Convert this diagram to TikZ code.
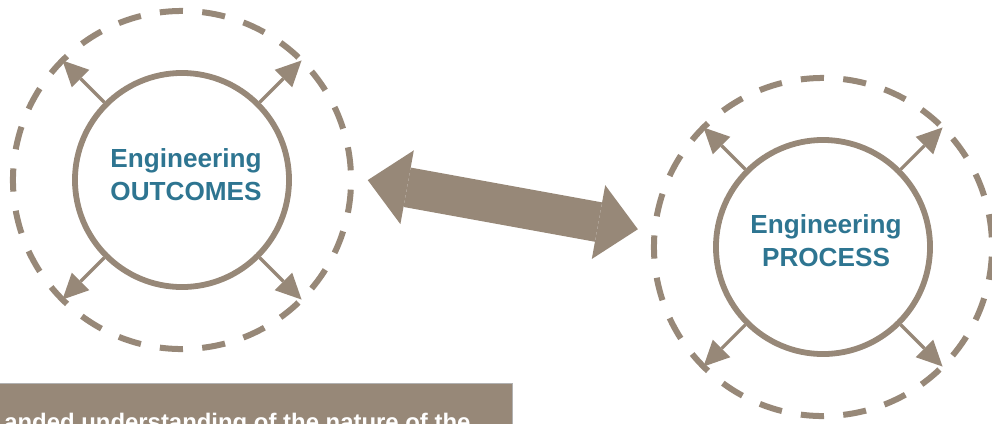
\documentclass[tikz,border=0pt]{standalone}
\usepackage{fontspec}
\setmainfont{Liberation Sans}
\usetikzlibrary{arrows.meta}
\definecolor{taupe}{RGB}{151,136,120}
\definecolor{engblue}{RGB}{46,117,145}
\begin{document}
\begin{tikzpicture}[x=0.025cm,y=-0.025cm]
	\tikzset{core/.style={draw=taupe,circle,line width=0.145cm,minimum size=5.35cm,inner sep=0pt},
		ring/.style={draw=taupe,circle,dash pattern=on 0.58cm off 0.482cm,dash phase=0.821cm,line width=0.15cm,minimum size=8.45cm,outer sep=0pt},
		caption/.style={align=center,text=engblue,font=\fontsize{18.6}{23.5}\selectfont\bfseries},
		spread/.style={draw=taupe,line width=0.08cm,-{Triangle[length=0.64cm,width=0.62cm,line width=0pt]}},
		link/.style={draw=taupe,line width=1cm,{Triangle[length=1cm,width=1.875cm,line width=0pt]}-{Triangle[length=1cm,width=1.875cm,line width=0pt]},shorten <=0.425cm,shorten >=0.425cm}}
	\useasboundingbox (0,0) rectangle (992,423);
	\clip (0,0) rectangle (992,423);
	% outcomes
	\node[ring] (ringA) at (182,180) {};
	\node[core] (coreA) at (182,180) {};
	\node[caption] (capA) at (186,174.5) {Engineering\\OUTCOMES};
	% process
	\node[ring] (ringB) at (823,247) {};
	\node[core] (coreB) at (823,247) {};
	\node[caption] (capB) at (826,241) {Engineering\\PROCESS};
	\foreach \c in {A,B}{
		\foreach \a in {45,135,225,315}{
			\draw[spread] (core\c.\a) -- (ring\c.\a);
		}
	}
	\draw[link] (ringA.1) -- (ringB.175.6);
	% note strip
	\fill[taupe] (0,383) rectangle (512,450);
	\draw[black!30,line width=0.025cm] (0,383) -- (512,383) -- (512,450);
	\node[anchor=base west,inner sep=0pt,text=white,font=\fontsize{17}{20}\selectfont\bfseries] (note) at (4,430) {anded understanding of the nature of the};
\end{tikzpicture}
\end{document}
